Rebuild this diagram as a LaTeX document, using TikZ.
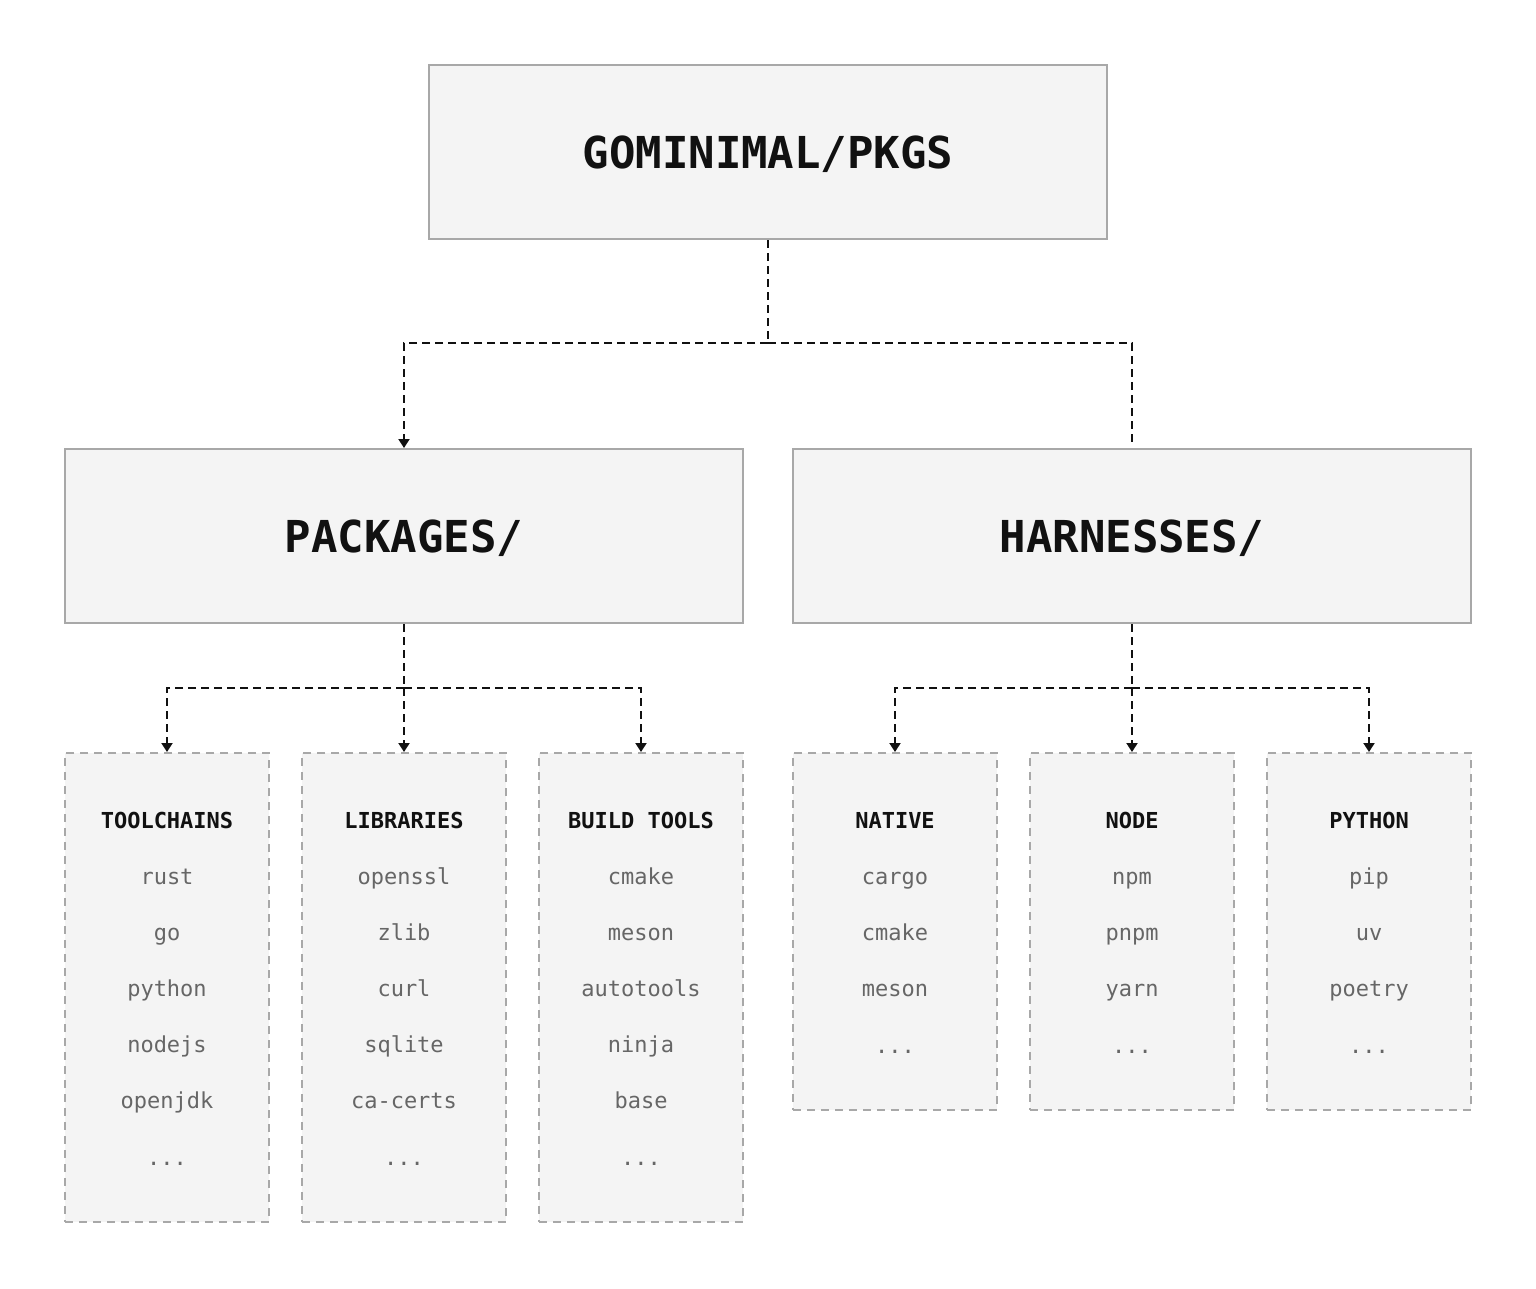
\documentclass[tikz,border=0pt]{standalone}
\usepackage{fontspec}
\setmonofont{DejaVu Sans Mono}
\usetikzlibrary{arrows.meta}
\definecolor{boxfill}{HTML}{F4F4F4}
\definecolor{boxline}{HTML}{A8A8A8}
\definecolor{itemtext}{HTML}{666666}
\definecolor{ink}{HTML}{111111}
\tikzset{
  bigbox/.style={draw=boxline, line width=2pt, fill=boxfill, minimum width=678pt, minimum height=174pt, inner sep=0pt},
  bigtext/.style={font=\ttfamily\bfseries\fontsize{44}{44}\selectfont, text=ink, inner sep=0pt, anchor=base},
  smallbox/.style={draw=boxline, line width=2pt, dash pattern=on 8pt off 6pt, fill=boxfill, minimum width=204pt, inner sep=0pt},
  conn/.style={draw=ink, line width=2pt, dash pattern=on 8pt off 5pt},
  arr/.style={conn, -{Triangle[width=11pt,length=9pt]}},
  head/.style={font=\ttfamily\bfseries\fontsize{22}{22}\selectfont, text=ink, inner sep=0pt, anchor=base},
  item/.style={font=\ttfamily\fontsize{22}{22}\selectfont, text=itemtext, inner sep=0pt, anchor=base},
}
\begin{document}
\begin{tikzpicture}[x=1pt,y=-1pt]
\useasboundingbox[fill=white] (0,0) rectangle (1536,1288);
% big boxes
\node[bigbox] (root) at (768,152) {};
\node[bigtext] (roott) at (768,168) {GOMINIMAL/PKGS};
\node[bigbox] (pk) at (404,536) {};
\node[bigtext] (pkt) at (404,552) {PACKAGES/};
\node[bigbox] (hn) at (1132,536) {};
\node[bigtext] (hnt) at (1132,552) {HARNESSES/};
% small boxes
\node[smallbox, minimum height=469pt] (tc) at (167,987.5) {};
\node[smallbox, minimum height=469pt] (lib) at (404,987.5) {};
\node[smallbox, minimum height=469pt] (bt) at (641,987.5) {};
\node[smallbox, minimum height=357pt] (nat) at (895,931.5) {};
\node[smallbox, minimum height=357pt] (nod) at (1132,931.5) {};
\node[smallbox, minimum height=357pt] (py) at (1369,931.5) {};
% toolchains
\node[head] (tch) at (167,828) {TOOLCHAINS};
\node[item] (tc1) at (167,884) {rust};
\node[item] (tc2) at (167,940) {go};
\node[item] (tc3) at (167,996) {python};
\node[item] (tc4) at (167,1052) {nodejs};
\node[item] (tc5) at (167,1108) {openjdk};
\node[item] (tc6) at (167,1165) {...};
% libraries
\node[head] (libh) at (404,828) {LIBRARIES};
\node[item] (lib1) at (404,884) {openssl};
\node[item] (lib2) at (404,940) {zlib};
\node[item] (lib3) at (404,996) {curl};
\node[item] (lib4) at (404,1052) {sqlite};
\node[item] (lib5) at (404,1108) {ca-certs};
\node[item] (lib6) at (404,1165) {...};
% build tools
\node[head] (bth) at (641,828) {BUILD TOOLS};
\node[item] (bt1) at (641,884) {cmake};
\node[item] (bt2) at (641,940) {meson};
\node[item] (bt3) at (641,996) {autotools};
\node[item] (bt4) at (641,1052) {ninja};
\node[item] (bt5) at (641,1108) {base};
\node[item] (bt6) at (641,1165) {...};
% native
\node[head] (nath) at (895,828) {NATIVE};
\node[item] (nat1) at (895,884) {cargo};
\node[item] (nat2) at (895,940) {cmake};
\node[item] (nat3) at (895,996) {meson};
\node[item] (nat4) at (895,1053) {...};
% node
\node[head] (nodh) at (1132,828) {NODE};
\node[item] (nod1) at (1132,884) {npm};
\node[item] (nod2) at (1132,940) {pnpm};
\node[item] (nod3) at (1132,996) {yarn};
\node[item] (nod4) at (1132,1053) {...};
% python
\node[head] (pyh) at (1369,828) {PYTHON};
\node[item] (py1) at (1369,884) {pip};
\node[item] (py2) at (1369,940) {uv};
\node[item] (py3) at (1369,996) {poetry};
\node[item] (py4) at (1369,1053) {...};
% connectors
\coordinate (j1) at (768,343);
\coordinate (j2) at (404,688);
\coordinate (j3) at (1132,688);
\draw[conn] (root.south) -- (j1);
\draw[arr] (j1) -| (pk.north);
\draw[conn, shorten >=6pt] (j1) -| (hn.north);
\draw[conn] (pk.south) -- (j2);
\draw[arr] (j2) -| (tc.north);
\draw[arr] (j2) -- (lib.north);
\draw[arr] (j2) -| (bt.north);
\draw[conn] (hn.south) -- (j3);
\draw[arr] (j3) -| (nat.north);
\draw[arr] (j3) -- (nod.north);
\draw[arr] (j3) -| (py.north);
\end{tikzpicture}
\end{document}
